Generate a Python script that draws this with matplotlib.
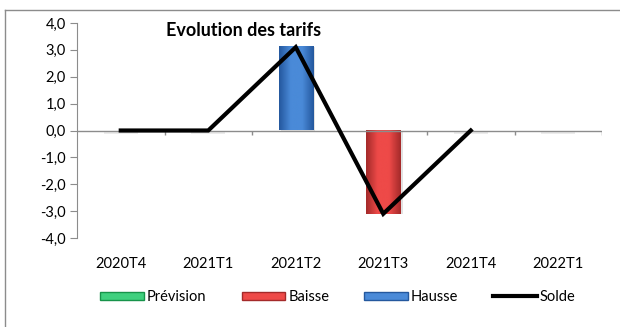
import numpy as np
import matplotlib
matplotlib.use("Agg")
import matplotlib.pyplot as plt
from matplotlib.colors import LinearSegmentedColormap
from matplotlib.lines import Line2D
from matplotlib.patches import Patch

plt.rcParams['font.family'] = ['Lato', 'DejaVu Sans']

categories = ["2020T4", "2021T1", "2021T2", "2021T3", "2021T4", "2022T1"]
prevision = [0.0, 0.0, 0.0, 0.0, 0.0, 0.0]
baisse = [0.0, 0.0, 0.0, -3.1, 0.0, 0.0]
hausse = [0.0, 0.0, 3.1, 0.0, 0.0, 0.0]
solde = [0.0, 0.0, 3.1, -3.1, 0.0, np.nan]
yticks = [-4, -3, -2, -1, 0, 1, 2, 3, 4]

colors = {
    "Prévision": ("#17934a", "#3fd07e"),
    "Baisse": ("#a42a2a", "#ee4a48"),
    "Hausse": ("#24589e", "#4a8ad8"),
}

fig = plt.figure(figsize=(6.2, 3.27), dpi=100)
ax = fig.add_axes([77 / 620, 1 - 238 / 327, 525 / 620, 215 / 327])

x = np.arange(len(categories))
bar_w = 0.39


def gradient_bars(values, name):
    dark, light = colors[name]
    cmap = LinearSegmentedColormap.from_list(name, [dark, light, light, dark])
    grad = np.linspace(0, 1, 64).reshape(1, -1)
    for xi, v in zip(x, values):
        if v == 0:
            continue
        # soft shadow behind the bar
        ax.bar(xi + 0.03, v, width=bar_w, color="#d0d0d0", alpha=0.6,
               zorder=1, linewidth=0)
        y0, y1 = sorted([0, v])
        ax.imshow(grad, cmap=cmap, aspect="auto", zorder=2,
                  extent=(xi - bar_w / 2, xi + bar_w / 2, y0, y1),
                  interpolation="bicubic")


# faint marks of empty bars at zero
for xi, b, h in zip(x, baisse, hausse):
    if b == 0 and h == 0:
        ax.bar(xi, -0.12, width=bar_w, color="#ececec", zorder=1, linewidth=0)

gradient_bars(prevision, "Prévision")
gradient_bars(baisse, "Baisse")
gradient_bars(hausse, "Hausse")

ax.plot(x, solde, color="black", linewidth=3, zorder=4,
        solid_joinstyle="miter")

ax.set_xlim(-0.5, len(categories) - 0.5)
ax.set_ylim(-4, 4)
ax.set_yticks(yticks)
ax.set_yticklabels([f"{t:.1f}".replace(".", ",") for t in yticks],
                   fontsize=10.5)
ax.tick_params(axis="y", direction="out", length=5, color="#8c8c8c", pad=3)

# category labels under the plot, axis line at zero
ax.set_xticks(x)
ax.set_xticklabels(categories, fontsize=10.5)
ax.tick_params(axis="x", length=0, pad=14)
ax.axhline(0, color="#8c8c8c", linewidth=1, zorder=3)
bounds = np.arange(len(categories) + 1) - 0.5
ax.vlines(bounds[1:], -0.18, 0, color="#8c8c8c", linewidth=1, zorder=3)

for s in ["top", "right", "bottom"]:
    ax.spines[s].set_visible(False)
ax.spines["left"].set_color("#8c8c8c")

fig.text(244 / 620, 1 - 31 / 327, "Evolution des tarifs", fontsize=13,
         fontweight="bold", ha="center", va="center")

handles = [Patch(facecolor=colors[n][1], edgecolor=colors[n][0]) for n in
           ["Prévision", "Baisse", "Hausse"]]
handles.append(Line2D([0], [0], color="black", linewidth=3))
fig.legend(handles, ["Prévision", "Baisse", "Hausse", "Solde"],
           loc="center", bbox_to_anchor=(338 / 620, 1 - 297 / 327), ncol=4,
           frameon=False, fontsize=10.5, handlelength=3.0, handleheight=0.5,
           handletextpad=0.2, columnspacing=2.4)

# chart frame
fig.add_artist(Line2D([5 / 620, 5 / 620], [0, 1 - 10 / 327],
                      transform=fig.transFigure, color="#8c8c8c", linewidth=1))
fig.add_artist(Line2D([5 / 620, 1], [1 - 10 / 327, 1 - 10 / 327],
                      transform=fig.transFigure, color="#8c8c8c", linewidth=1))

fig.savefig("out.png", dpi=100)
